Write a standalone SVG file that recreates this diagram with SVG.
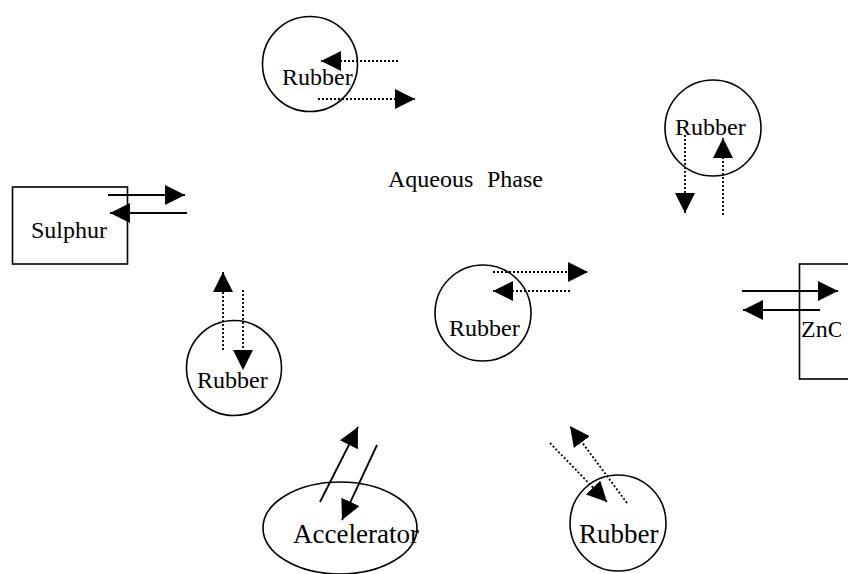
<svg xmlns="http://www.w3.org/2000/svg" width="848" height="574" viewBox="0 0 848 574">
<style>
.shape{fill:none;stroke:#000;stroke-width:1.6}
.t{font-family:"Liberation Serif","Times New Roman",serif;font-size:24px;fill:#000}
.tl{font-family:"Liberation Serif","Times New Roman",serif;font-size:27px;fill:#000}
.solid{stroke:#000;stroke-width:1.8;fill:none;marker-end:url(#ah)}
.dot{stroke:#000;stroke-width:1.8;stroke-dasharray:2,2;fill:none;marker-end:url(#ah)}
</style>
<defs>
<marker id="ah" markerUnits="userSpaceOnUse" markerWidth="21" markerHeight="21" refX="20" refY="10" orient="auto" viewBox="0 0 21 21">
<path d="M0,0 L20,10 L0,20 z" fill="#000"/>
</marker>
<clipPath id="zclip"><rect x="790" y="250" width="51" height="140"/></clipPath>
</defs>
<rect width="848" height="574" fill="#fff"/>
<g id="aqueous-phase">
<text class="t" y="187"><tspan x="388">Aqueous</tspan> <tspan x="487">Phase</tspan></text>
</g>
<g id="rubber-top">
<circle class="shape" cx="310" cy="64" r="47.5"/>
<text class="t" x="282" y="85">Rubber</text>
</g>
<g id="rubber-top-right">
<circle class="shape" cx="713" cy="128" r="48"/>
<text class="t" x="675" y="135">Rubber</text>
</g>
<g id="sulphur">
<rect class="shape" x="12.5" y="187" width="115" height="77"/>
<text class="t" x="31" y="238">Sulphur</text>
</g>
<g id="rubber-center">
<circle class="shape" cx="483" cy="313" r="48"/>
<text class="t" x="449" y="336">Rubber</text>
</g>
<g id="rubber-left">
<circle class="shape" cx="234" cy="368" r="47.5"/>
<text class="t" x="197" y="388">Rubber</text>
</g>
<g id="zno">
<rect class="shape" x="799.5" y="264" width="60" height="115"/>
<text class="t" x="801" y="337" clip-path="url(#zclip)">ZnO</text>
</g>
<g id="accelerator">
<ellipse class="shape" cx="340" cy="528" rx="77" ry="46"/>
<text class="tl" x="293" y="543">Accelerator</text>
</g>
<g id="rubber-bottom-right">
<circle class="shape" cx="618" cy="523" r="48"/>
<text class="tl" x="579" y="543">Rubber</text>
</g>
<g id="connectors">
<line class="dot" x1="398" y1="61" x2="321" y2="61"/>
<line class="dot" x1="318" y1="99" x2="415" y2="99"/>
<line class="dot" x1="685" y1="135" x2="685" y2="213"/>
<line class="dot" x1="723" y1="215" x2="723" y2="138"/>
<line class="solid" x1="108" y1="195" x2="185" y2="195"/>
<line class="solid" x1="187" y1="213" x2="110" y2="213"/>
<line class="dot" x1="493" y1="272" x2="588" y2="272"/>
<line class="dot" x1="570" y1="291" x2="493" y2="291"/>
<line class="dot" x1="223" y1="350" x2="223" y2="272"/>
<line class="dot" x1="243" y1="290" x2="243" y2="370"/>
<line class="solid" x1="742" y1="291" x2="838" y2="291"/>
<line class="solid" x1="820" y1="310" x2="743" y2="310"/>
<line class="solid" x1="320" y1="502" x2="358" y2="427"/>
<line class="solid" x1="377" y1="445" x2="342" y2="520"/>
<line class="dot" x1="550" y1="443" x2="607" y2="502"/>
<line class="dot" x1="627" y1="503" x2="570" y2="426"/>
</g>
</svg>
